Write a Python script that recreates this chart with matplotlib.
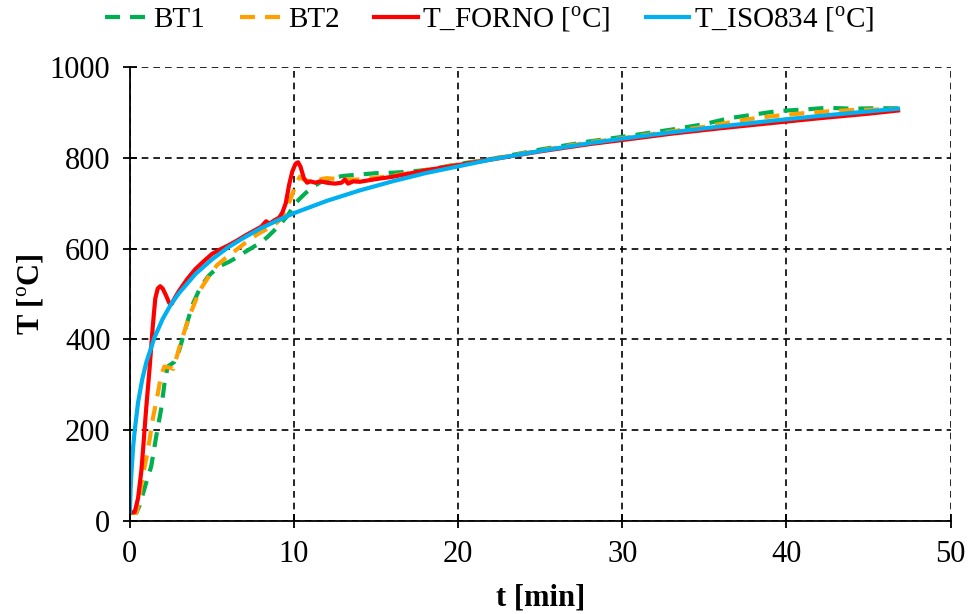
import matplotlib
matplotlib.use("Agg")
import matplotlib.pyplot as plt

plt.rcParams['font.family'] = ['Liberation Serif', 'DejaVu Serif']
plt.rcParams['mathtext.fontset'] = 'custom'
plt.rcParams['mathtext.rm'] = 'Liberation Serif'
plt.rcParams['mathtext.bf'] = 'Liberation Serif:bold'

# thermocouple BT1
t_bt1 = [0, 0.4, 0.6, 0.8, 1.0, 1.3, 1.6, 1.9, 2.1, 2.3, 2.5, 2.7, 3.0, 3.4, 3.8,
         4.3, 4.8, 5.4, 6.0, 6.5, 7.0, 7.5, 8.0, 8.4, 8.8, 9.2, 9.6, 10.0, 10.3,
         10.7, 11.2, 11.7, 12.3, 13, 14, 15, 16, 17, 18, 19, 20, 22, 25, 28, 30,
         33, 35, 36.5, 38, 39.5, 41, 42.5, 44, 45.5, 46.8]
T_bt1 = [18, 18, 35, 60, 85, 120, 185, 245, 300, 340, 345, 350, 375, 425, 475,
         515, 540, 560, 570, 580, 592, 603, 614, 626, 640, 655, 672, 695, 708,
         722, 737, 748, 755, 760, 763, 766, 767, 769, 773, 779, 786, 797, 818, 836, 846,
         862, 874, 887, 895, 903, 906, 910, 908, 909, 909]

# thermocouple BT2
t_bt2 = [0, 0.4, 0.55, 0.7, 0.9, 1.1, 1.4, 1.7, 1.9, 2.1, 2.4, 2.65, 3.0, 3.3, 3.6,
         4.0, 4.3, 4.8, 5.3, 5.8, 6.3, 6.8, 7.3, 7.8, 8.3, 8.8, 9.2, 9.5, 9.8, 10.1,
         10.35, 10.6, 11.0, 11.5, 12, 13, 14, 15, 16, 17, 18, 19, 20, 22, 25, 28, 30,
         33, 35, 37.5, 39, 41, 42.5, 44, 45.5, 46.8]
T_bt2 = [18, 18, 40, 80, 120, 155, 225, 280, 320, 340, 338, 335, 380, 415, 448,
         485, 510, 538, 563, 578, 592, 606, 620, 632, 642, 652, 665, 685, 710, 740,
         758, 752, 747, 752, 755, 752, 752, 756, 760, 766, 772, 779, 785, 797, 816, 834, 843,
         858, 868, 884, 891, 898, 902, 905, 906, 908]

# furnace temperature
t_forno = [0, 0.3, 0.5, 0.7, 0.8, 1.0, 1.2, 1.4, 1.55, 1.7, 1.85, 2.0, 2.2, 2.4, 2.55,
           2.75, 3.0, 3.5, 4.0, 4.5, 5.0, 5.5, 6.0, 6.5, 7.0, 7.5, 8.0, 8.3, 8.5, 8.8,
           9.1, 9.3, 9.5, 9.7, 9.9, 10.1, 10.25, 10.4, 10.6, 10.8, 11.0, 11.3, 11.6,
           12.0, 12.5, 12.9, 13.1, 13.3, 13.6, 14.0, 14.5, 15, 16, 17, 18, 19, 20, 22,
           25, 28, 30, 33, 36, 39, 42, 45, 46.8]
T_forno = [18, 20, 50, 110, 155, 250, 335, 430, 490, 512, 517, 512, 497, 480, 478,
           492, 507, 533, 555, 572, 588, 598, 607, 617, 628, 638, 648, 660, 655, 662,
           668, 680, 700, 740, 770, 787, 790, 780, 755, 745, 748, 745, 748,
           745, 743, 745, 752, 743, 748, 747, 750, 753, 758, 765, 772, 778, 784, 796,
           814, 830, 839, 853, 865, 876, 887, 897, 904]

# ISO 834 standard curve
t_iso = [0, 0.05, 0.1, 0.2, 0.3, 0.5, 0.75, 1.0, 1.5, 2, 2.5, 3, 4, 5, 6, 7, 8, 9, 10,
         12, 14, 16, 18, 20, 22, 25, 28, 30, 33, 36, 39, 42, 45, 46.8]
T_iso = [20, 73, 108, 163, 200, 261, 311, 349, 404, 445, 477, 502, 544, 576, 603,
         625, 645, 662, 678, 705, 728, 748, 766, 781, 796, 815, 832, 842, 856, 869,
         881, 892, 902, 908]

fig = plt.figure(figsize=(9.69, 6.14), dpi=100)
ax = fig.add_axes([0.134, 0.1515, 0.847, 0.7395])

lw = 3.0
dash = (3.6, 2.4)
ax.plot(t_bt1, T_bt1, color='#00B050', lw=lw, dashes=dash, label='BT1')
ax.plot(t_bt2, T_bt2, color='#FFA000', lw=lw, dashes=dash, label='BT2')
ax.plot(t_forno, T_forno, color='#FF0000', lw=lw, label=r'T_FORNO [$^{\rm o}$C]')
ax.plot(t_iso, T_iso, color='#00B0F0', lw=lw, label=r'T_ISO834 [$^{\rm o}$C]')

ax.set_xlim(0, 50)
ax.set_ylim(0, 1000)
ax.set_xticks(range(0, 51, 10))
ax.set_yticks(range(0, 1001, 200))
ax.grid(True, color='black', linestyle=(0, (4, 3)), lw=1.2)
for s in ['top', 'right']:
    ax.spines[s].set_visible(False)
for s in ['left', 'bottom']:
    ax.spines[s].set_linewidth(1.3)
ax.tick_params(direction='inout', length=10, width=1.3, labelsize=22, pad=9)

ax.set_xlabel('t [min]', fontsize=22, fontweight='bold', labelpad=10)
ax.set_ylabel(r'T [$^{\rm o}$C]', fontsize=22, fontweight='bold', labelpad=2)

fig.legend(loc='upper center', bbox_to_anchor=(0.505, 1.035), ncol=4, frameon=False,
           fontsize=21, handlelength=1.5, handletextpad=0.15, columnspacing=1.2)

fig.savefig('out.png', dpi=100)
